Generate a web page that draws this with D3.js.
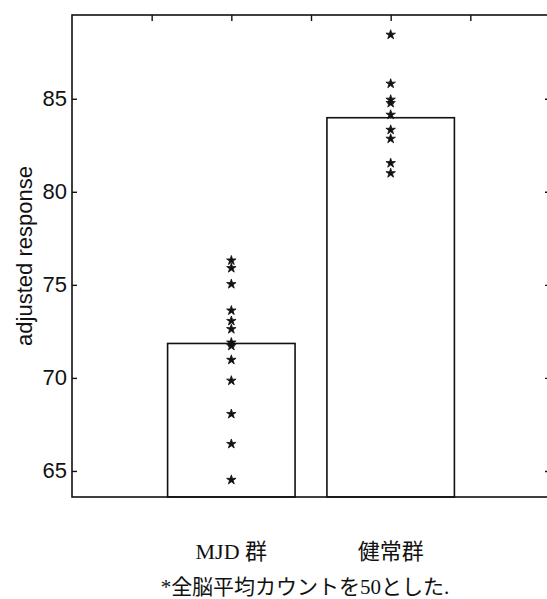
<!DOCTYPE html>
<html>
<head>
<meta charset="utf-8">
<script src="https://cdn.jsdelivr.net/npm/d3@7"></script>
<style>
  body { margin: 0; background: #fff; }
  svg { display: block; }
</style>
</head>
<body>
<svg id="chart" width="547" height="599"></svg>
<script>
var categories = ["MJD 群", "健常群"];
var xPos = [1, 2];
var barMeans = [71.85, 83.98];
var mjdPoints = [76.31, 75.9, 75.04, 73.62, 73.06, 72.62, 71.9, 71.72, 70.97, 69.85, 68.06, 66.45, 64.52];
var controlPoints = [88.44, 85.81, 84.95, 84.77, 84.14, 83.33, 82.85, 81.54, 81.0];
var yTicks = [65, 70, 75, 80, 85];
var topTicks = [0.5, 1, 1.5, 2, 2.5];
var footnote = "*全脳平均カウントを50とした.";

var svg = d3.select("#chart");

// plot box ("top" is a reserved window prop, so use prefixed names)
var pLeft = 72, pRight = 550, pTop = 15, pBottom = 497;

var x = d3.scaleLinear().domain([0, 3]).range([pLeft, pRight]);
var y = d3.scaleLinear().domain([63.6, 89.5]).range([pBottom, pTop]);

var barW = 0.8;

// bars (white with black outline)
svg.selectAll("rect.bar")
    .data(barMeans)
    .enter()
    .append("rect")
    .attr("class", "bar")
    .attr("x", function(d, i) { return x(xPos[i] - barW / 2); })
    .attr("width", function(d, i) { return x(xPos[i] + barW / 2) - x(xPos[i] - barW / 2); })
    .attr("y", function(d) { return y(d); })
    .attr("height", function(d) { return y(63.6) - y(d); })
    .style("fill", "#fff")
    .style("stroke", "#111")
    .style("stroke-width", 1.6);

// individual points, '*' markers
var pts = [];
mjdPoints.forEach(function(v) { pts.push([xPos[0], v]); });
controlPoints.forEach(function(v) { pts.push([xPos[1], v]); });

var star = d3.symbol().type(d3.symbolStar).size(28);
svg.selectAll("path.pt")
    .data(pts)
    .enter()
    .append("path")
    .attr("class", "pt")
    .attr("d", star)
    .attr("transform", function(d) { return "translate(" + x(d[0]) + "," + y(d[1]) + ")"; })
    .style("fill", "#111")
    .style("stroke", "#111")
    .style("stroke-width", 0.8);

// axes frame
svg.append("rect")
    .attr("x", pLeft)
    .attr("y", pTop)
    .attr("width", pRight - pLeft)
    .attr("height", pBottom - pTop)
    .style("fill", "none")
    .style("stroke", "#111")
    .style("stroke-width", 1.6);

var yAxis = d3.axisLeft(y).tickValues(yTicks).tickSize(-5).tickPadding(5);
var gy = svg.append("g")
    .attr("transform", "translate(" + pLeft + ",0)")
    .call(yAxis);
gy.select(".domain").remove();
gy.selectAll("text")
    .style("font-family", "'Liberation Sans', Arial, sans-serif")
    .style("font-size", "22px")
    .style("fill", "#111");

var gyr = svg.append("g")
    .attr("transform", "translate(" + pRight + ",0)")
    .call(d3.axisRight(y).tickValues(yTicks).tickSize(-5).tickFormat(""));
gyr.select(".domain").remove();

var gt = svg.append("g")
    .attr("transform", "translate(0," + pTop + ")")
    .call(d3.axisTop(x).tickValues(topTicks).tickSize(-6).tickFormat(""));
gt.select(".domain").remove();

svg.selectAll(".tick line").style("stroke", "#111").style("stroke-width", 1.4);

// y label
svg.append("text")
    .attr("transform", "translate(32," + (pTop + pBottom) / 2 + ") rotate(-90)")
    .attr("text-anchor", "middle")
    .style("font-family", "'Liberation Sans', Arial, sans-serif")
    .style("font-size", "22px")
    .style("fill", "#111")
    .text("adjusted response");

// group names under the axes
svg.selectAll("text.cat")
    .data(categories)
    .enter()
    .append("text")
    .attr("class", "cat")
    .attr("x", function(d, i) { return x(xPos[i]); })
    .attr("y", 559)
    .attr("text-anchor", "middle")
    .style("font-family", "'Liberation Serif', 'Noto Sans CJK JP', serif")
    .style("font-size", "22px")
    .style("fill", "#111")
    .text(function(d) { return d; });

svg.append("text")
    .attr("x", 305)
    .attr("y", 594)
    .attr("text-anchor", "middle")
    .style("font-family", "'Liberation Serif', 'Noto Sans CJK JP', serif")
    .style("font-size", "21px")
    .style("fill", "#111")
    .text(footnote);
</script>
</body>
</html>
